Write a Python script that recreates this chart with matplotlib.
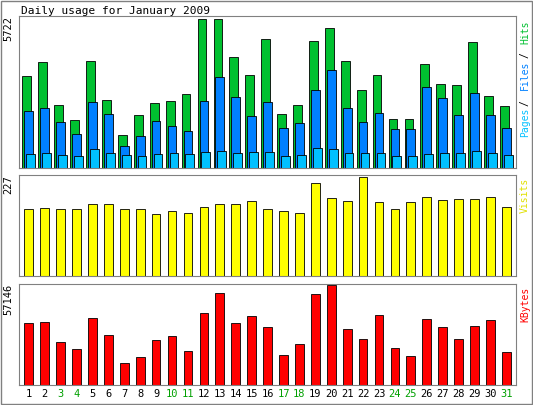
import numpy as np
import matplotlib.pyplot as plt

days = list(range(1, 32))
weekend = [3, 4, 10, 11, 17, 18, 24, 25, 31]
hits = [3550, 4065, 2410, 1855, 4100, 2600, 1265, 2050, 2485, 2565, 2840, 5722, 5722, 4260, 3590, 4970, 2090, 2410, 4890, 5400, 4100, 3000, 3590, 1895, 1895, 3985, 3235, 3200, 4855, 2760, 2370]
files = [2210, 2290, 1780, 1300, 2530, 2090, 830, 1220, 1815, 1620, 1420, 2565, 3510, 2720, 2010, 2530, 1540, 1735, 3000, 3750, 2290, 1780, 2130, 1500, 1500, 3120, 2680, 2050, 2880, 2050, 1540]
pages = [550, 590, 510, 470, 750, 590, 510, 470, 550, 590, 550, 630, 670, 590, 630, 630, 470, 510, 790, 750, 590, 590, 590, 470, 470, 550, 590, 590, 670, 590, 510]
visits = [154, 156, 154, 154, 166, 164, 154, 154, 142, 149, 144, 159, 166, 164, 171, 154, 149, 144, 214, 178, 171, 227, 169, 154, 169, 181, 174, 176, 176, 181, 159]
kbytes = [35500, 36100, 24700, 20400, 38500, 28900, 12600, 16200, 25900, 28300, 19200, 41500, 52900, 35500, 39700, 33100, 17400, 23500, 52300, 57146, 31900, 26500, 40300, 21100, 16800, 37900, 33100, 26500, 33700, 37300, 18600]

fig = plt.figure(figsize=(5.33, 4.05), dpi=100)
fig.patch.set_facecolor('white')
fig.add_artist(plt.Rectangle((0.002, 0.002), 0.996, 0.996, fill=False, ec='#808080', lw=1, transform=fig.transFigure))
fig.text(0.04, 0.985, 'Daily usage for January 2009', family='DejaVu Sans Mono', fontsize=8, va='top')

x = np.array(days)
mono = 'DejaVu Sans Mono'

def panel(rect, top_label, ymax):
    ax = fig.add_axes(rect)
    ax.set_xlim(0.4, 31.6)
    ax.set_ylim(0, ymax * 1.02)
    ax.set_xticks([])
    ax.set_yticks([])
    for s in ax.spines.values():
        s.set_color('#808080')
    ax.text(-0.022, 1.0, top_label, transform=ax.transAxes, rotation=90, ha='center', va='top', family=mono, fontsize=7.5)
    return ax

ax1 = panel([0.036, 0.585, 0.932, 0.375], '5722', 5722)
ax1.bar(x - 0.12, hits, 0.55, color='#00C030', ec='black', lw=0.6)
ax1.bar(x + 0.0, files, 0.55, color='#0080FF', ec='black', lw=0.6)
ax1.bar(x + 0.12, pages, 0.55, color='#00C0FF', ec='black', lw=0.6)
yy = 0.97
for t, c in [('Hits', '#00C030'), ('/', 'black'), ('Files', '#0080FF'), ('/', 'black'), ('Pages', '#00C0FF')]:
    ax1.text(1.018, yy, t, transform=ax1.transAxes, rotation=90, ha='center', va='top', family=mono, fontsize=7, color=c)
    yy -= len(t) * 0.052

ax2 = panel([0.036, 0.318, 0.932, 0.25], '227', 227)
ax2.bar(x, visits, 0.55, color='#FFFF00', ec='black', lw=0.6)
ax2.text(1.018, 0.97, 'Visits', transform=ax2.transAxes, rotation=90, ha='center', va='top', family=mono, fontsize=7, color='#E0E000')

ax3 = panel([0.036, 0.05, 0.932, 0.25], '57146', 57146)
ax3.bar(x, kbytes, 0.55, color='#FF0000', ec='black', lw=0.6)
ax3.text(1.018, 0.97, 'KBytes', transform=ax3.transAxes, rotation=90, ha='center', va='top', family=mono, fontsize=7, color='#FF0000')

for d in days:
    ax3.text(d, -0.04, str(d), transform=ax3.get_xaxis_transform(), ha='center', va='top', family=mono, fontsize=7.5,
             color='#00A000' if d in weekend else 'black')

fig.savefig('out.png', dpi=100)
